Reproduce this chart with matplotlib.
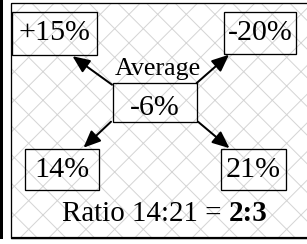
import matplotlib
matplotlib.use('Agg')
import matplotlib.pyplot as plt
from matplotlib.patches import Rectangle, FancyArrowPatch

# Chart values
avg_label = 'Average'
avg_value = -6
change_values = [15, -20]      # top boxes (signed changes)
share_values = [14, 21]        # bottom boxes
ratio_simple = [2, 3]

DPI = 86.4
W, H = 307, 244


def pt(px):
    # pixels -> points at this dpi
    return px * 72 / DPI


plt.rcParams['font.family'] = ['Liberation Serif', 'DejaVu Serif']
plt.rcParams['hatch.linewidth'] = 0.8

fig = plt.figure(figsize=(307.3 / DPI, 244.3 / DPI), dpi=DPI)
ax = fig.add_axes([0, 0, 1, 1])
ax.set_xlim(0, 307.3)
ax.set_ylim(244.3, 0)
ax.axis('off')

# Background: thick bar on the left, hatched frame
ax.add_patch(Rectangle((0, 0), 2.7, 239, facecolor='black', edgecolor='none'))
ax.add_patch(Rectangle((10.5, 3.5), 320, 234.5, facecolor='white',
                       edgecolor='#d4d4d4', lw=0, hatch='x'))
ax.add_patch(Rectangle((10.5, 3.5), 320, 234.5, facecolor='none',
                       edgecolor='black', lw=pt(1.3)))
ax.plot([10.5, 320], [238, 238], color='black', lw=pt(2.2), solid_capstyle='butt')

# Boxes: (x0, y0, x1, y1, text baseline)
labels = [f'{v:+d}%' for v in change_values] + [f'{v}%' for v in share_values]
boxes = [(12, 12.5, 97, 55.5, 40),
         (224, 12.5, 296, 54, 39.5),
         (25, 149.5, 99, 190, 177),
         (221, 149.5, 286, 190, 177)]
avg_box = (113, 83.5, 197, 122, 115)

box_fs = pt(30)
for lab, (x0, y0, x1, y1, base) in zip(labels + [f'{avg_value}%'], boxes + [avg_box]):
    ax.add_patch(Rectangle((x0, y0), x1 - x0, y1 - y0, facecolor='none',
                           edgecolor='black', lw=pt(1.3)))
    ax.text((x0 + x1) / 2, base, lab, ha='center', va='baseline', fontsize=box_fs)

ax.text(157.5, 75, avg_label, ha='center', va='baseline', fontsize=pt(26))

# Arrows from the average box corners to the other boxes
starts = [(112, 85), (196.5, 83.5), (111, 122), (198, 122)]
tips = [(72.5, 56.5), (229, 55), (83.5, 148), (229.5, 148.5)]
for s, t in zip(starts, tips):
    ax.add_patch(FancyArrowPatch(s, t, arrowstyle='-|>,head_length=0.6,head_width=0.26',
                                 mutation_scale=pt(24), lw=pt(2), color='black',
                                 shrinkA=0, shrinkB=0))

# Ratio line, regular part then bold part
t1 = ax.text(62, 221, f'Ratio {share_values[0]}:{share_values[1]} = ',
             ha='left', va='baseline', fontsize=pt(29))
ax.annotate(f'{ratio_simple[0]}:{ratio_simple[1]}', xy=(1, 0), xycoords=t1,
            ha='left', va='bottom', fontsize=pt(29), fontweight='bold')

fig.savefig('out.png', dpi=DPI)
